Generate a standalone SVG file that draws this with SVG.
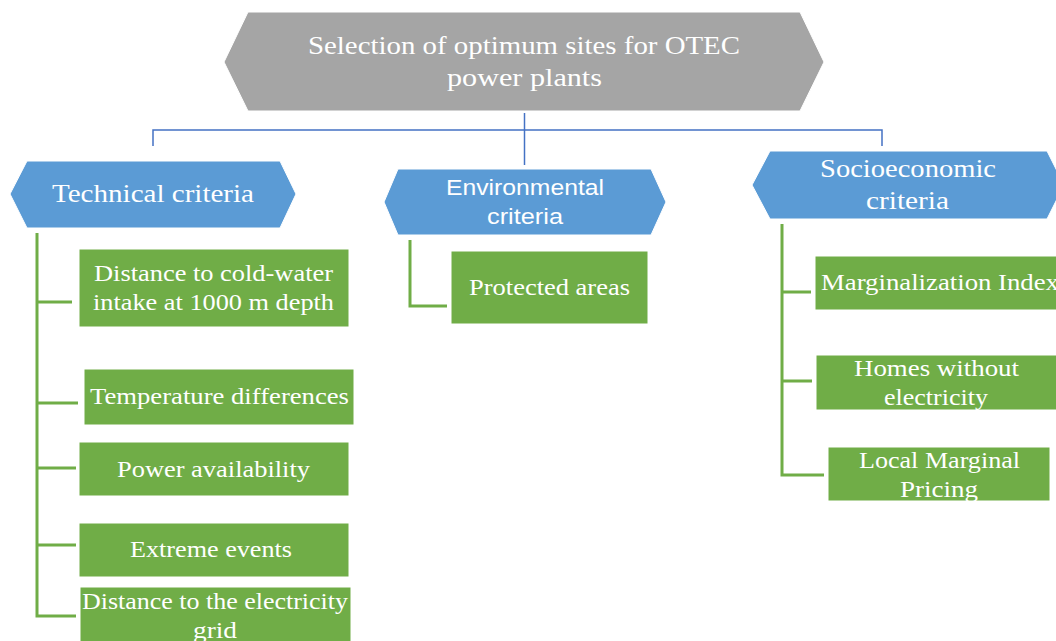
<svg xmlns="http://www.w3.org/2000/svg" width="1056" height="641" viewBox="0 0 1056 641">
  <style>
    .root { fill: #A5A5A5; stroke: #ffffff; stroke-width: 1; }
    .cat { fill: #5B9BD5; stroke: #ffffff; stroke-width: 1; }
    .item { fill: #70AD47; stroke: #ffffff; stroke-width: 1; }
    .serif { font-family: "Liberation Serif", "Times New Roman", serif; fill: #ffffff; }
    .sans { font-family: "Liberation Sans", Arial, sans-serif; fill: #ffffff; }
    .blue { stroke: #4472C4; stroke-width: 1.5; fill: none; }
    .green { stroke: #70AD47; stroke-width: 3; fill: none; }
  </style>
  <rect width="1056" height="641" fill="#ffffff"/>

  <!-- connectors -->
  <g id="connectors">
    <path class="blue" d="M153,146 V130 H882 V146"/>
    <path class="blue" d="M524.5,113 V130" stroke-width="3"/>
    <path class="blue" d="M524.5,130 V165"/>
    <path class="green" d="M37,233 V616 H76 M37,302 H72 M37,403 H78 M37,468 H76 M37,545 H76"/>
    <path class="green" d="M410,240 V306 H447"/>
    <path class="green" d="M782,224 V475 H824 M782,292 H811 M782,381 H812"/>
  </g>

  <!-- root -->
  <g id="root">
    <polygon class="root" points="224,62 248,12 800,12 824,62 800,111 248,111"/>
    <text class="serif" x="308" y="54" font-size="25" textLength="432" lengthAdjust="spacingAndGlyphs">Selection of optimum sites for OTEC</text>
    <text class="serif" x="447" y="86" font-size="25" textLength="155" lengthAdjust="spacingAndGlyphs">power plants</text>
  </g>

  <!-- category headers -->
  <g id="technical">
    <polygon class="cat" points="10,194 27,161 280,161 296,194 280,228 27,228"/>
    <text class="serif" x="52" y="202" font-size="25" textLength="202" lengthAdjust="spacingAndGlyphs">Technical criteria</text>
  </g>
  <g id="environmental">
    <polygon class="cat" points="384,202 398,169 651,169 666,202 651,235 398,235"/>
    <text class="sans" x="446" y="195" font-size="22" textLength="158" lengthAdjust="spacingAndGlyphs">Environmental</text>
    <text class="sans" x="487" y="224" font-size="22" textLength="76" lengthAdjust="spacingAndGlyphs">criteria</text>
  </g>
  <g id="socioeconomic">
    <polygon class="cat" points="752,185 770,151 1047,151 1064,185 1047,219 770,219"/>
    <text class="serif" x="820" y="177" font-size="25" textLength="176" lengthAdjust="spacingAndGlyphs">Socioeconomic</text>
    <text class="serif" x="866" y="209" font-size="25" textLength="83" lengthAdjust="spacingAndGlyphs">criteria</text>
  </g>

  <!-- technical items -->
  <g id="cold-water">
    <rect class="item" x="79" y="249" width="270" height="78"/>
    <text class="serif" x="94" y="281" font-size="24" textLength="239" lengthAdjust="spacingAndGlyphs">Distance to cold-water</text>
    <text class="serif" x="93" y="310" font-size="24" textLength="241" lengthAdjust="spacingAndGlyphs">intake at 1000 m depth</text>
  </g>
  <g id="temperature">
    <rect class="item" x="84" y="369" width="270" height="56"/>
    <text class="serif" x="90" y="404" font-size="24" textLength="259" lengthAdjust="spacingAndGlyphs">Temperature differences</text>
  </g>
  <g id="power">
    <rect class="item" x="79" y="442" width="270" height="54"/>
    <text class="serif" x="117" y="477" font-size="24" textLength="193" lengthAdjust="spacingAndGlyphs">Power availability</text>
  </g>
  <g id="extreme">
    <rect class="item" x="79" y="523" width="270" height="54"/>
    <text class="serif" x="130" y="557" font-size="24" textLength="162" lengthAdjust="spacingAndGlyphs">Extreme events</text>
  </g>
  <g id="grid">
    <rect class="item" x="80" y="587" width="271" height="60"/>
    <text class="serif" x="82" y="609" font-size="24" textLength="266" lengthAdjust="spacingAndGlyphs">Distance to the electricity</text>
    <text class="serif" x="193" y="638" font-size="24" textLength="44" lengthAdjust="spacingAndGlyphs">grid</text>
  </g>

  <!-- environmental item -->
  <g id="protected">
    <rect class="item" x="451" y="251" width="197" height="73"/>
    <text class="serif" x="469" y="295" font-size="24" textLength="161" lengthAdjust="spacingAndGlyphs">Protected areas</text>
  </g>

  <!-- socioeconomic items -->
  <g id="marginalization">
    <rect class="item" x="815" y="256" width="250" height="54"/>
    <text class="serif" x="821" y="290" font-size="24" textLength="238" lengthAdjust="spacingAndGlyphs">Marginalization Index</text>
  </g>
  <g id="homes">
    <rect class="item" x="816" y="355" width="250" height="55"/>
    <text class="serif" x="854" y="376" font-size="24" textLength="165" lengthAdjust="spacingAndGlyphs">Homes without</text>
    <text class="serif" x="884" y="405" font-size="24" textLength="104" lengthAdjust="spacingAndGlyphs">electricity</text>
  </g>
  <g id="pricing">
    <rect class="item" x="828" y="447" width="222" height="54"/>
    <text class="serif" x="859" y="468" font-size="24" textLength="161" lengthAdjust="spacingAndGlyphs">Local Marginal</text>
    <text class="serif" x="900" y="497" font-size="24" textLength="78" lengthAdjust="spacingAndGlyphs">Pricing</text>
  </g>
</svg>
